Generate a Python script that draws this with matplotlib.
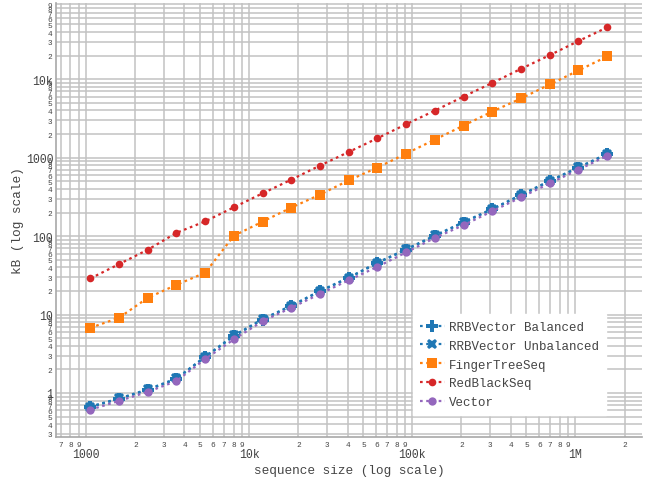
import matplotlib
matplotlib.use("Agg")
import math
import matplotlib.pyplot as plt
from matplotlib.ticker import FixedLocator, FuncFormatter

sizes = [1058, 1587, 2381, 3571, 5357, 8035, 12053, 18080, 27120, 40680,
         61020, 91530, 137300, 205900, 308900, 463300, 695000, 1042500, 1563800]

rrb_balanced = [0.66, 0.84, 1.09, 1.50, 2.86, 5.3, 8.6, 12.8, 19.7, 29.2,
                45.3, 67, 100, 149, 219, 331, 500, 742, 1105]
rrb_unbalanced = [0.67, 0.85, 1.11, 1.53, 2.90, 5.4, 8.75, 13.0, 20.0, 29.6,
                  46.0, 68, 102, 151, 223, 336, 508, 753, 1122]
finger_tree = [6.76, 9.08, 16.3, 23.9, 34.1, 101, 153, 231, 338, 514,
               748, 1128, 1702, 2570, 3880, 5690, 8590, 12950, 19540]
red_black = [28.8, 43.9, 67, 110, 154, 233, 351, 525, 794, 1183,
             1770, 2672, 3985, 6025, 8990, 13580, 20300, 30700, 45900]
vector = [0.61, 0.79, 1.03, 1.42, 2.70, 4.82, 8.2, 12.2, 18.3, 27.4,
          40.6, 62, 95, 138, 208, 312, 472, 702, 1058]

series_names = ["RRBVector Balanced", "RRBVector Unbalanced", "FingerTreeSeq",
                "RedBlackSeq", "Vector"]
series_values = [rrb_balanced, rrb_unbalanced, finger_tree, red_black, vector]
series_colors = ["#1f77b4", "#1f77b4", "#ff7f0e", "#d62728", "#9467bd"]
series_markers = ["P", "X", "s", "o", "o"]
series_msize = [8.5, 7.5, 6.5, 5.5, 6.0]

x_major = [1e3, 1e4, 1e5, 1e6]
x_major_labels = ["1000", "10k", "100k", "1M"]
y_major = [1, 10, 100, 1000, 10000]
y_major_labels = ["1", "10", "100", "1000", "10k"]

FONT = "Liberation Mono"
TXT = "#444444"
GRID = "#c2c2c2"

fig = plt.figure(figsize=(6.48, 4.81), dpi=100)
ax = fig.add_axes([56/648, 1-438/481, (642-56)/648, (438-4)/481])
ax.set_xscale("log")
ax.set_yscale("log")
ax.set_xlim(652, 2.56e6)
ax.set_ylim(0.274, 9.4e4)

for i in range(len(series_names)):
    ax.plot(sizes, series_values[i], linestyle=(0, (1.2, 1.6)), linewidth=1.6,
            color=series_colors[i], marker=series_markers[i],
            markersize=series_msize[i], markeredgewidth=0,
            label=series_names[i], zorder=3 + i * 0.1)

# ticks
minor_x = [m * 10 ** e for e in range(2, 7) for m in range(2, 10)]
minor_y = [m * 10 ** e for e in range(-1, 5) for m in range(2, 10)]
ax.xaxis.set_major_locator(FixedLocator(x_major))
ax.xaxis.set_minor_locator(FixedLocator(minor_x))
ax.yaxis.set_major_locator(FixedLocator(y_major))
ax.yaxis.set_minor_locator(FixedLocator(minor_y))

xmap = dict(zip(x_major, x_major_labels))
ymap = dict(zip(y_major, y_major_labels))
ax.xaxis.set_major_formatter(FuncFormatter(lambda v, p: xmap.get(v, "")))
ax.yaxis.set_major_formatter(FuncFormatter(lambda v, p: ymap.get(v, "")))


def minor_fmt(v, p):
    e = math.floor(math.log10(v) + 1e-9)
    return str(int(round(v / 10 ** e)))


ax.xaxis.set_minor_formatter(FuncFormatter(minor_fmt))
ax.yaxis.set_minor_formatter(FuncFormatter(minor_fmt))

ax.tick_params(axis="both", which="both", length=0, colors=TXT)
ax.tick_params(axis="x", which="major", pad=8, labelsize=8.3)
ax.tick_params(axis="x", which="minor", pad=3, labelsize=5.6)
ax.tick_params(axis="y", which="major", pad=2, labelsize=8.3)
ax.tick_params(axis="y", which="minor", pad=3, labelsize=5.6)
for lab in ax.get_xticklabels(which="both") + ax.get_yticklabels(which="both"):
    lab.set_fontfamily(FONT)

ax.grid(which="both", color=GRID, linewidth=1.1, zorder=0)
ax.set_axisbelow(True)
for s in ["top", "right"]:
    ax.spines[s].set_visible(False)
for s in ["left", "bottom"]:
    ax.spines[s].set_color("#a8a8a8")
    ax.spines[s].set_linewidth(1.2)

ax.set_xlabel("sequence size (log scale)", fontsize=9.2, family=FONT,
              color=TXT, labelpad=3)
ax.set_ylabel("kB (log scale)", fontsize=9.2, family=FONT, color=TXT,
              labelpad=1)

handles, labels = ax.get_legend_handles_labels()
hmap = dict(zip(labels, handles))
leg = ax.legend([hmap[n] for n in series_names], series_names,
                loc="upper left", bbox_to_anchor=(413/648, 1-315/481),
                bbox_transform=fig.transFigure, frameon=True, fancybox=False,
                prop={"family": FONT, "size": 9}, handlelength=2.0,
                handletextpad=0.35, labelspacing=0.55, borderpad=0.55,
                borderaxespad=0)
leg.get_frame().set_facecolor("white")
leg.get_frame().set_edgecolor("white")
leg.get_frame().set_alpha(1)
leg.set_zorder(10)
for t in leg.get_texts():
    t.set_color(TXT)

fig.savefig("out.png", dpi=100, facecolor="white")
